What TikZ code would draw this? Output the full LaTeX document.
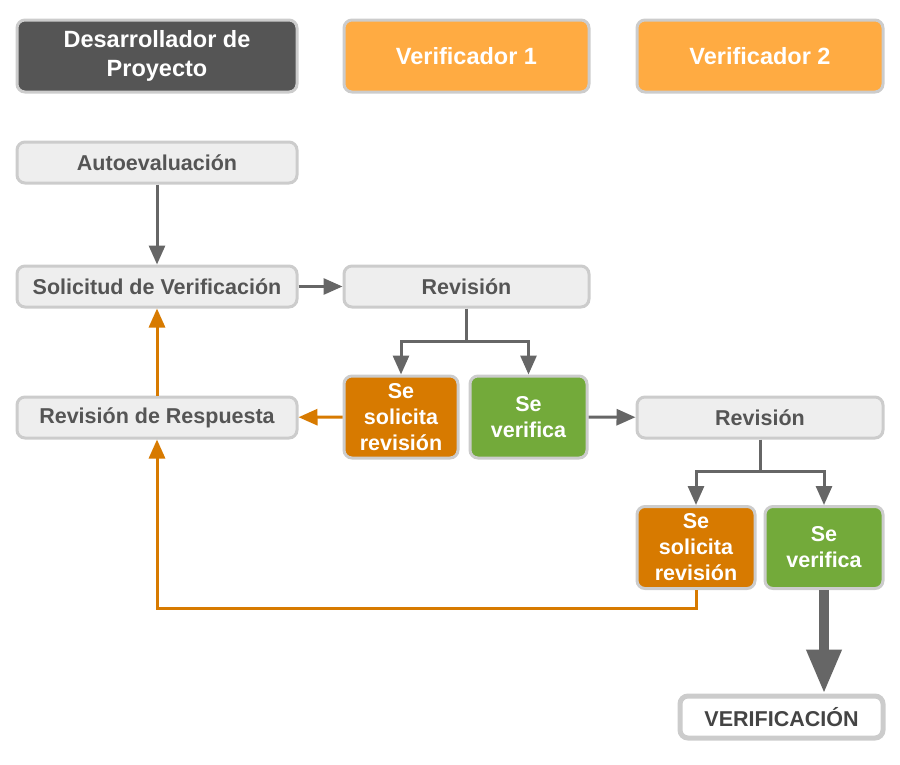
\documentclass[tikz,border=0pt]{standalone}
\usepackage{fontspec}
\setmainfont{Liberation Sans}
\usetikzlibrary{arrows.meta}
\definecolor{boxline}{HTML}{CCCCCC}
\definecolor{darkbox}{HTML}{555555}
\definecolor{headorange}{HTML}{FFAB42}
\definecolor{lightbox}{HTML}{EEEEEE}
\definecolor{boxtext}{HTML}{555555}
\definecolor{askorange}{HTML}{D77A00}
\definecolor{okgreen}{HTML}{73AA3A}
\definecolor{linegray}{HTML}{666666}
\begin{document}
\begin{tikzpicture}[x=1pt,y=-1pt,
  every node/.style={inner sep=0pt, align=center, font=\bfseries\fontsize{21.5}{26}\selectfont},
  base/.style={draw=boxline, line width=3pt, rounded corners=8pt},
  head/.style={base, minimum height=72pt, text=white, font=\bfseries\fontsize{23.5}{29}\selectfont},
  stage/.style={base, fill=lightbox, text=boxtext, minimum height=41pt},
  choice/.style={base, text=white, minimum height=82pt},
  garrow/.style={draw=linegray, line width=3pt, -{Triangle[width=16pt,length=19pt]}},
  oarrow/.style={draw=askorange, line width=3pt, -{Triangle[width=16pt,length=19pt]}}]
\useasboundingbox (0,0) rectangle (900,764);
% encabezados
\node [head, fill=darkbox, minimum width=280pt] (dev) at (157,56) {Desarrollador de\\Proyecto};
\node [head, fill=headorange, minimum width=245pt] (ver1) at (466.5,56) {Verificador 1};
\node [head, fill=headorange, minimum width=246pt] (ver2) at (760,56) {Verificador 2};
% etapas
\node [stage, minimum width=280pt] (auto) at (157,162.5) {Autoevaluación};
\node [stage, minimum width=280pt] (sol) at (157,286.5) {Solicitud de Verificación};
\node [stage, minimum width=245pt] (rev1) at (466.5,286.5) {Revisión};
\node [stage, minimum width=280pt] (resp) at (157,417.5) {Revisión de Respuesta};
\node [stage, minimum width=246pt] (rev2) at (760,417.5) {Revisión};
% decisiones
\node [choice, fill=askorange, minimum width=114pt] (ss1) at (401,417) {Se\\solicita\\revisión};
\node [choice, fill=okgreen, minimum width=117pt] (sv1) at (528.5,417) {Se\\verifica};
\node [choice, fill=askorange, minimum width=118pt] (ss2) at (696,547.5) {Se\\solicita\\revisión};
\node [choice, fill=okgreen, minimum width=118pt] (sv2) at (824,547.5) {Se\\verifica};
\node [base, line width=5pt, fill=white, text=boxtext!80!black, minimum width=203pt, minimum height=42pt] (fin) at (781.5,717) {VERIFICACIÓN};
% puntos de ramificacion
\coordinate (br1) at (466.5,341);
\coordinate (br2) at (760,471);
\coordinate (lp) at (157,608);
% conectores
\draw [garrow] (auto) -- (sol);
\draw [garrow] (sol) -- (rev1);
\draw [garrow] (rev1) -- (br1) -| (ss1);
\draw [garrow] (br1) -| (sv1);
\draw [oarrow] (ss1) -- (resp);
\draw [oarrow] (resp) -- (sol);
\draw [garrow] (sv1) -- (rev2);
\draw [garrow] (rev2) -- (br2) -| (ss2);
\draw [garrow] (br2) -| (sv2);
\draw [oarrow] (ss2) |- (lp) -- (resp);
\draw [draw=linegray, line width=10pt, -{Triangle[width=33pt,length=44pt]}] (sv2) -- (fin.north -| sv2);
\end{tikzpicture}
\end{document}
